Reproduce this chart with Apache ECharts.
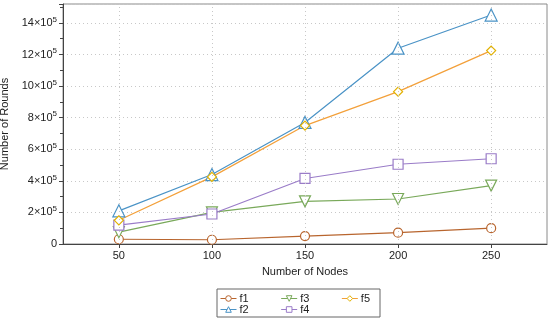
<!DOCTYPE html>
<html><head><meta charset="utf-8">
<script src="https://cdn.jsdelivr.net/npm/echarts@6/dist/echarts.min.js"></script>
<style>html,body{margin:0;padding:0;background:#fff}#c{width:550px;height:322px}</style>
</head><body><div id="c"></div>
<script>
const nodes = [50, 100, 150, 200, 250];
const f1 = [30000, 27000, 50000, 72000, 100000];
const f2 = [210000, 440000, 770000, 1240000, 1450000];
const f3 = [75000, 200000, 270000, 285000, 370000];
const f4 = [120000, 190000, 415000, 505000, 540000];
const f5 = [150000, 425000, 750000, 965000, 1225000];
const seriesNames = ['f1', 'f2', 'f3', 'f4', 'f5'];
const xTitle = 'Number of Nodes';
const yTitle = 'Number of Rounds';

const font = 'Liberation Sans, Arial, Helvetica, sans-serif';
const styles = {
  f1: {color: '#b8652e', symbol: 'circle', size: 9},
  f2: {color: '#4a93c6', symbol: 'triangle', size: 12},
  f3: {color: '#79a95a', symbol: 'path://M0,0 L10,0 L5,9 Z', size: 11},
  f4: {color: '#9a7cc8', symbol: 'rect', size: 10},
  f5: {color: '#f3a03a', symbol: 'diamond', size: 9, border: '#e2b100'}
};
const dataMap = {f1, f2, f3, f4, f5};

const series = seriesNames.map(n => ({
  name: n, type: 'line',
  data: nodes.map((x, i) => [x, dataMap[n][i]]),
  symbol: styles[n].symbol, symbolSize: styles[n].size,
  lineStyle: {color: styles[n].color, width: 1.2},
  itemStyle: {color: '#fff', borderColor: styles[n].border || styles[n].color, borderWidth: 1.2},
  z: 3
}));
series.push({
  type: 'line', data: [], silent: true,
  markLine: {
    silent: true, symbol: 'none', label: {show: false},
    lineStyle: {color: '#c8c8c8', type: [1, 3], width: 1},
    data: nodes.map(x => ({xAxis: x}))
  }
});

const chart = echarts.init(document.getElementById('c'));
const legendCommon = {
  padding: 0,
  itemWidth: 16, itemHeight: 7, itemGap: 32,
  itemStyle: {borderWidth: 1},
  lineStyle: {width: 1},
  textStyle: {fontFamily: font, fontSize: 11, color: '#222', padding: [0, 0, 0, -2]}
};
chart.setOption({
  animation: false,
  backgroundColor: '#fff',
  grid: {left: 63, right: 3, top: 4, bottom: 78, show: true, borderColor: '#8a8a8a', borderWidth: 1, outerBoundsMode: 'none', containLabel: false},
  xAxis: {
    type: 'value', min: 20, max: 280,
    name: xTitle, nameLocation: 'middle', nameGap: 22,
    nameTextStyle: {fontFamily: font, fontSize: 11, color: '#222'},
    axisLine: {show: true, lineStyle: {color: '#444'}},
    axisTick: {show: true, customValues: nodes, length: 4, lineStyle: {color: '#444'}},
    axisLabel: {customValues: nodes, fontFamily: font, fontSize: 11, color: '#222', margin: 6},
    splitLine: {show: false}
  },
  yAxis: {
    type: 'value', min: 0, max: 1520000, interval: 200000,
    name: yTitle, nameLocation: 'middle', nameGap: 41,
    nameTextStyle: {fontFamily: font, fontSize: 11, color: '#222'},
    axisLine: {show: true, lineStyle: {color: '#444'}},
    axisTick: {show: true, length: 4, lineStyle: {color: '#444'}},
    minorTick: {show: true, splitNumber: 2, length: 3, lineStyle: {color: '#444'}},
    splitLine: {show: true, lineStyle: {color: '#c8c8c8', type: [1, 3]}},
    axisLabel: {
      showMaxLabel: false, fontFamily: font, fontSize: 11, color: '#222', margin: 6,
      formatter: v => v === 0 ? '0' : (v / 100000) + '×10{sup|5}',
      rich: {sup: {fontSize: 8, fontFamily: font, color: '#222', padding: [0, 0, 7, 0]}}
    }
  },
  legend: [
    Object.assign({}, legendCommon, {data: ['f1', 'f3', 'f5'], left: 220, top: 293}),
    Object.assign({}, legendCommon, {data: ['f2', 'f4'], left: 220, top: 304})
  ],
  graphic: [{
    type: 'rect', shape: {x: 217, y: 289, width: 163, height: 28},
    style: {fill: 'none', stroke: '#666', lineWidth: 1}, silent: true
  }],
  series: series
});
</script></body></html>
